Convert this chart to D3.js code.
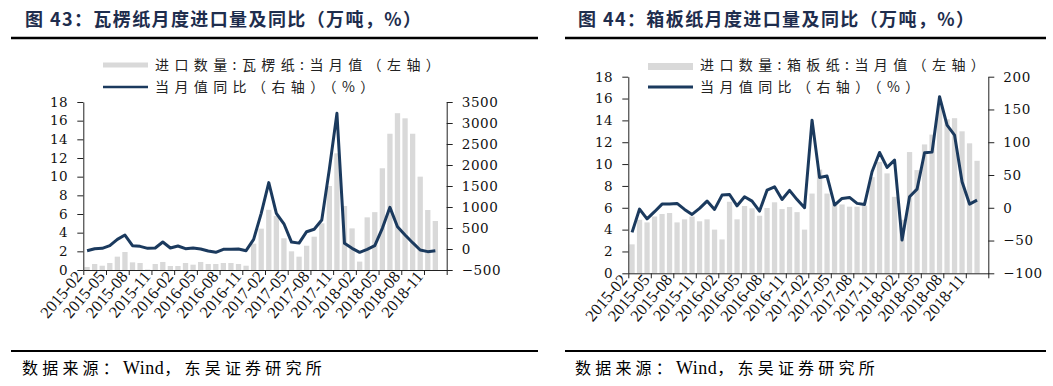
<!DOCTYPE html>
<html><head><meta charset="utf-8">
<script src="https://cdn.jsdelivr.net/npm/d3@7"></script>
<style>body{margin:0;background:#fff} svg{display:block}</style>
</head><body><svg id="c" width="1053" height="386"></svg>
<script>
const categories = ["2015-02","2015-03","2015-04","2015-05","2015-06","2015-07","2015-08","2015-09","2015-10","2015-11","2015-12",
"2016-01","2016-02","2016-03","2016-04","2016-05","2016-06","2016-07","2016-08","2016-09","2016-10","2016-11","2016-12",
"2017-01","2017-02","2017-03","2017-04","2017-05","2017-06","2017-07","2017-08","2017-09","2017-10","2017-11","2017-12",
"2018-01","2018-02","2018-03","2018-04","2018-05","2018-06","2018-07","2018-08","2018-09","2018-10","2018-11","2018-12","2019-01"];
const tickLabels = ["2015-02","2015-05","2015-08","2015-11","2016-02","2016-05","2016-08","2016-11","2017-02","2017-05","2017-08","2017-11","2018-02","2018-05","2018-08","2018-11"];
// 瓦楞纸 (万吨, %)
const corrugatedImport = [0.32,0.64,0.46,0.75,1.43,1.93,0.82,0.75,0.05,0.64,0.86,0.43,0.43,0.75,0.57,0.86,0.64,0.64,0.75,0.75,0.64,0.46,2.82,4.43,6.45,5.8,3.4,2.0,1.43,2.6,3.57,5.0,9.0,12.5,6.86,4.46,0.9,5.64,6.2,10.9,14.6,16.8,16.25,14.6,10.0,6.43,5.25,null];
const corrugatedYoY = [-40,7,16,80,230,333,80,63,16,24,167,24,71,8,24,0,-48,-79,-8,-8,0,-40,230,850,1580,850,600,165,140,412,469,690,1900,3230,135,16,-79,-8,80,492,992,531,333,150,-24,-63,-40,null];
// 箱板纸 (万吨, %)
const boxboardImport = [2.65,4.9,4.66,5.2,5.43,5.52,4.66,4.94,5.2,4.76,4.94,4.0,3.1,6.55,4.94,6.16,5.95,5.27,5.98,6.5,5.88,6.07,5.6,4.0,7.3,9.5,7.3,6.4,6.3,6.1,6.1,6.2,8.8,10.2,9.15,7.0,4.9,11.1,9.45,11.8,12.7,15.5,14.1,14.2,13.0,11.9,10.3,null];
const boxboardYoY = [-37.6,-2,-17,-6,5.6,5.6,6.6,-2.5,-10.2,-1,10.2,-2.5,19.3,20.3,3,16.8,10.2,-5.1,26.9,32,12.7,26.5,12.5,0,133.7,46.3,48.4,4.1,14.3,15.8,6.7,5.1,55,84.4,61.6,72.8,-49.3,16.8,28.5,83.9,84.9,169.4,126.2,110.9,39.7,5.6,11.7,null];
const leftTicks = [0,2,4,6,8,10,12,14,16,18];
const rightTicksA = [-500,0,500,1000,1500,2000,2500,3000,3500];
const rightTicksB = [-100,-50,0,50,100,150,200];

const svg = d3.select("#c");
const CJK = "'Noto Sans CJK SC','Noto Sans',sans-serif";
const NUM = "'DejaVu Serif',serif";
const LAT = "'Liberation Serif',serif";
const NAVY = "#1b3a5e";
const BAR = "#d9d9d9";

function panel(cfg){
  const g = svg.append("g");
  // title + rules
  g.append("text").attr("x",cfg.titleX).attr("y",26).attr("font-family",CJK).attr("font-weight","bold")
    .attr("font-size",18).attr("letter-spacing","1.4px").attr("fill","#1e2d4d").text(cfg.title);
  g.append("line").attr("x1",cfg.ruleX0).attr("x2",cfg.ruleX1).attr("y1",38).attr("y2",38).attr("stroke","#000").attr("stroke-width",2.5);
  g.append("line").attr("x1",cfg.ruleX0).attr("x2",cfg.ruleX1).attr("y1",351).attr("y2",351).attr("stroke","#000").attr("stroke-width",2);
  const src = g.append("text").attr("x",cfg.titleX-3).attr("y",374).attr("font-family",CJK).attr("font-size",16)
    .attr("letter-spacing","4.2px").attr("fill","#000");
  src.append("tspan").text("数据来源：");
  src.append("tspan").attr("font-family",LAT).attr("font-size",18).attr("letter-spacing","0.5px").text("Wind");
  src.append("tspan").text("，东吴证券研究所");

  const x = d3.scaleBand().domain(categories).range([cfg.x0,cfg.x1]).padding(0);
  const step = x.step(), bw = step*0.7;
  const xb = d3.scaleLinear().domain([0,categories.length]).range([cfg.x0,cfg.x1]);
  const yL = d3.scaleLinear().domain([0,18]).range([cfg.yBot,cfg.yTop]);
  const yR = d3.scaleLinear().domain(cfg.rDomain).range([cfg.yBot,cfg.yTop]);

  // bars
  g.append("g").selectAll("rect").data(cfg.bars.map((v,i)=>({c:categories[i],v})).filter(d=>d.v!=null))
    .join("rect").attr("x",d=>x(d.c)+(step-bw)/2).attr("width",bw)
    .attr("y",d=>yL(d.v)).attr("height",d=>yL(0)-yL(d.v)).attr("fill",BAR);

  // axes
  const ax = (sel)=>{sel.selectAll("path,line").attr("stroke","#222");sel.selectAll("text").attr("font-family",NUM).attr("font-size",13.5).attr("fill","#111").attr("letter-spacing","0.6px");};
  g.append("g").attr("transform",`translate(${cfg.x0},0)`)
    .call(d3.axisLeft(yL).tickValues(leftTicks).tickSize(6).tickSizeOuter(0).tickPadding(9).tickFormat(d3.format("d"))).call(ax);
  g.append("g").attr("transform",`translate(${cfg.x1},0)`)
    .call(d3.axisRight(yR).tickValues(cfg.rTicks).tickSize(6).tickSizeOuter(0).tickPadding(9).tickFormat(d3.format("d"))).call(ax);
  g.append("g").attr("transform",`translate(0,${cfg.yBot})`)
    .call(d3.axisBottom(xb).tickValues(d3.range(0,categories.length+1,3)).tickSize(5).tickSizeOuter(0).tickFormat("")).call(ax);
  g.selectAll(".domain").attr("stroke","#222");

  // x labels
  g.append("g").selectAll("text").data(tickLabels).join("text")
    .attr("transform",d=>`translate(${x(d)+step/2-4},${cfg.yBot+7}) rotate(-50)`)
    .attr("text-anchor","end").attr("font-family",LAT).attr("font-size",16.5).attr("fill","#111").text(d=>d);

  // line
  const line = d3.line().defined(d=>d.v!=null).x(d=>x(d.c)+step/2).y(d=>yR(d.v));
  g.append("path").datum(cfg.line.map((v,i)=>({c:categories[i],v})))
    .attr("d",line).attr("fill","none").attr("stroke",NAVY).attr("stroke-width",3).attr("stroke-linejoin","round");

  // legend
  const lg = g.append("g").attr("font-family",CJK).attr("font-size",14).attr("fill","#222").attr("letter-spacing","5.4px");
  lg.append("rect").attr("x",cfg.legX).attr("y",cfg.swY).attr("width",45).attr("height",cfg.swH).attr("fill",BAR);
  lg.append("text").attr("x",cfg.legX+52).attr("y",70).text(cfg.legend1);
  lg.append("line").attr("x1",cfg.legX).attr("x2",cfg.legX+45).attr("y1",87).attr("y2",87).attr("stroke",NAVY).attr("stroke-width",cfg.legLW);
  lg.append("text").attr("x",cfg.legX+52).attr("y",92).text("当月值同比（右轴）（%）");
}

panel({title:"图 43：瓦楞纸月度进口量及同比（万吨，%）", titleX:25, ruleX0:11, ruleX1:538,
  x0:83.3, x1:446.7, yTop:102, yBot:270, rDomain:[-500,3500], rTicks:rightTicksA,
  bars:corrugatedImport, line:corrugatedYoY, legX:103, swY:62.5, swH:5, legLW:2.5,
  legend1:"进口数量:瓦楞纸:当月值（左轴）"});
panel({title:"图 44：箱板纸月度进口量及同比（万吨，%）", titleX:578, ruleX0:565, ruleX1:1046,
  x0:628.3, x1:988.3, yTop:76.7, yBot:273.3, rDomain:[-100,200], rTicks:rightTicksB,
  bars:boxboardImport, line:boxboardYoY, legX:648, swY:63, swH:7, legLW:3,
  legend1:"进口数量:箱板纸:当月值（左轴）"});
</script></body></html>
